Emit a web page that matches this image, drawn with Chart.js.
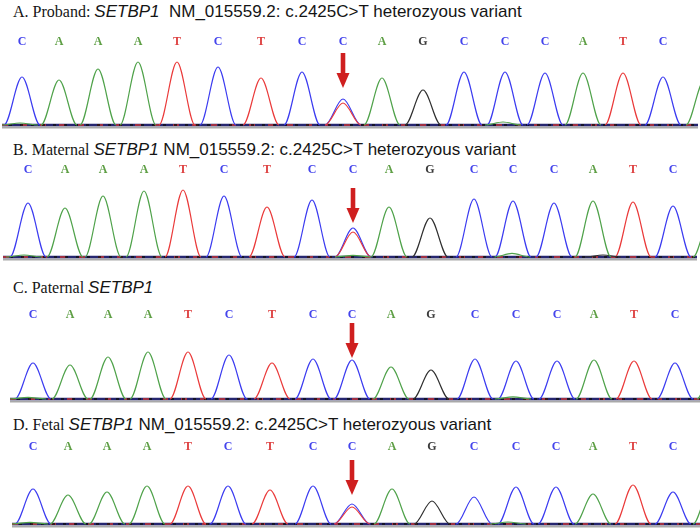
<!DOCTYPE html>
<html>
<head>
<meta charset="utf-8">
<script src="https://cdn.jsdelivr.net/npm/chart.js@4.4.1/dist/chart.umd.min.js"></script>
<style>
  body { margin: 0; background: #fff; width: 700px; height: 529px; overflow: hidden; position: relative; }
  .title { position: absolute; left: 13px; font: 17px 'Liberation Sans', Arial, sans-serif; color: #151515; white-space: pre; line-height: 18px; }
  .title .s { font-family: 'Liberation Serif', 'Times New Roman', serif; font-size: 16px; }
  .panel { position: absolute; left: 0; width: 700px; }
  canvas { display: block; }
</style>
</head>
<body>
<div class="title" style="top:3px"><span class="s">A. Proband: </span><i>SETBP1</i>  NM_015559.2: c.2425C&gt;T heterozyous variant</div>
<div class="title" style="top:141px"><span class="s">B. Maternal </span><i>SETBP1</i> NM_015559.2: c.2425C&gt;T heterozyous variant</div>
<div class="title" style="top:279px"><span class="s">C. Paternal </span><i>SETBP1</i></div>
<div class="title" style="top:416px"><span class="s">D. Fetal </span><i>SETBP1</i> NM_015559.2: c.2425C&gt;T heterozyous variant</div>

<div class="panel" style="top:30px"><canvas id="traceA" width="700" height="102"></canvas></div>
<div class="panel" style="top:158px"><canvas id="traceB" width="700" height="106"></canvas></div>
<div class="panel" style="top:303px"><canvas id="traceC" width="700" height="103"></canvas></div>
<div class="panel" style="top:435px"><canvas id="traceD" width="700" height="96"></canvas></div>

<script>
// base calls shared by all four reads
const bases = ['C', 'A', 'A', 'A', 'T', 'C', 'T', 'C', 'C', 'A', 'G', 'C', 'C', 'C', 'A', 'T', 'C'];
const variantIndex = 8;
const variantAlt = 'T';

// peak positions (scan) and heights (signal)
const probandPos = [22, 59, 98, 138, 177, 218, 261, 302, 343, 382, 423, 464, 505, 545, 583, 623, 663];
const probandHeight = [1200, 1125, 1400, 1575, 1575, 1450, 1175, 1325, 650, 1175, 875, 1325, 1325, 1300, 1300, 1300, 1200];
const probandAlt = 550;
const probandMinor = [['A', 20, 50], ['A', 503, 75], ['A', 704, 1100]];

const maternalPos = [28, 65, 103, 144, 183, 224, 267, 312, 353, 389, 430, 474, 513, 554, 593, 633, 673];
const maternalHeight = [1350, 1225, 1525, 1650, 1675, 1525, 1250, 1425, 725, 1250, 975, 1450, 1400, 1350, 1400, 1375, 1275];
const maternalAlt = 625;
const maternalMinor = [['A', 24, 50], ['A', 353, 40], ['A', 512, 90], ['G', 603, 50], ['A', 711, 1050]];

const paternalPos = [33, 70, 108, 148, 188, 229, 272, 313, 352, 391, 431, 475, 516, 557, 594, 634, 675];
const paternalHeight = [900, 850, 1050, 1175, 1175, 1100, 900, 1000, 975, 800, 725, 1000, 950, 950, 975, 950, 900];
const paternalAlt = 0;
const paternalMinor = [['A', 28, 40], ['A', 513, 55], ['A', 715, 950]];

const fetalPos = [33, 68, 107, 147, 188, 228, 270, 313, 352, 392, 432, 474, 516, 556, 593, 633, 673];
const fetalHeight = [875, 725, 800, 950, 950, 950, 850, 950, 500, 875, 575, 675, 925, 925, 750, 975, 800];
const fetalAlt = 425;
const fetalMinor = [['A', 30, 40], ['A', 508, 50], ['A', 711, 950]];

const channels = [
  { base: 'A', color: '#4fa24a' },
  { base: 'G', color: '#2f2f2f' },
  { base: 'T', color: '#ea3a3a' },
  { base: 'C', color: '#3b3bf0' }
];
const letterColors = { A: '#5e9f45', C: '#4444ec', G: '#3a3a3a', T: '#de4242' };
const halfWidth = 18;

const buildPeaks = (pos, heights, alt, minor) => {
  const peaks = pos.map((x, i) => ({ base: bases[i], x, h: heights[i] }));
  if (alt > 0) peaks.push({ base: variantAlt, x: pos[variantIndex], h: alt });
  minor.forEach(m => peaks.push({ base: m[0], x: m[1], h: m[2] }));
  return peaks;
};

const buildDatasets = (peaks, start, end) => channels.map(ch => {
  const mine = peaks.filter(p => p.base === ch.base).sort((a, b) => a.x - b.x);
  const data = [{ x: start, y: 0 }];
  mine.forEach(p => {
    data.push({ x: p.x - halfWidth, y: 0 }, { x: p.x, y: p.h }, { x: p.x + halfWidth, y: 0 });
  });
  data.push({ x: end, y: 0 });
  return {
    label: ch.base,
    data,
    borderColor: ch.color,
    borderWidth: 1.2,
    pointRadius: 0,
    fill: false,
    cubicInterpolationMode: 'monotone',
    segment: {
      borderColor: c => (c.p0.parsed.y === 0 && c.p1.parsed.y === 0) ? 'rgba(0,0,0,0)' : undefined
    }
  };
});

const traceDecor = {
  id: 'traceDecor',
  beforeDatasetsDraw(chart, args, opts) {
    const { ctx } = chart;
    const xs = chart.scales.x, ys = chart.scales.y;
    const x0 = xs.getPixelForValue(opts.start), x1 = xs.getPixelForValue(opts.end);
    const yb = ys.getPixelForValue(0), yg = ys.getPixelForValue(-65);
    ctx.save();
    ctx.lineWidth = 2;
    ctx.strokeStyle = '#a9a9a9';
    ctx.beginPath(); ctx.moveTo(x0, yg); ctx.lineTo(x1, yg); ctx.stroke();
    ctx.lineWidth = 2.4;
    ctx.strokeStyle = '#262670';
    ctx.beginPath(); ctx.moveTo(x0, yb); ctx.lineTo(x1, yb); ctx.stroke();
    ctx.lineWidth = 1.6;
    ctx.setLineDash([6, 13]);
    ctx.strokeStyle = '#c93434';
    ctx.beginPath(); ctx.moveTo(x0, yb); ctx.lineTo(x1, yb); ctx.stroke();
    ctx.setLineDash([3, 8]);
    ctx.lineDashOffset = 4;
    ctx.strokeStyle = '#111';
    ctx.beginPath(); ctx.moveTo(x0, yb); ctx.lineTo(x1, yb); ctx.stroke();
    ctx.restore();
  },
  afterDatasetsDraw(chart, args, opts) {
    const { ctx, chartArea } = chart;
    const xs = chart.scales.x, ys = chart.scales.y;
    ctx.save();
    ctx.font = 'bold 12px "Liberation Serif", "Times New Roman", serif';
    ctx.textAlign = 'center';
    ctx.textBaseline = 'middle';
    opts.positions.forEach((p, i) => {
      ctx.fillStyle = letterColors[bases[i]];
      ctx.fillText(bases[i], xs.getPixelForValue(p), chartArea.top - 10);
    });
    if (opts.arrowGap !== null) {
      const ax = xs.getPixelForValue(opts.positions[variantIndex]);
      const tip = ys.getPixelForValue(opts.heights[variantIndex]) - opts.arrowGap;
      ctx.fillStyle = '#cf1f1f';
      ctx.fillRect(ax - 2.3, tip - 35, 4.6, 21);
      ctx.beginPath();
      ctx.moveTo(ax - 6.5, tip - 15);
      ctx.lineTo(ax + 6.5, tip - 15);
      ctx.lineTo(ax, tip);
      ctx.closePath();
      ctx.fill();
    }
    ctx.restore();
  }
};

const makeTrace = (id, pos, heights, alt, minor, start, end, yMax, arrowGap) => {
  new Chart(document.getElementById(id), {
    type: 'line',
    data: { datasets: buildDatasets(buildPeaks(pos, heights, alt, minor), start, end) },
    options: {
      responsive: false,
      animation: false,
      events: [],
      layout: { padding: { top: 22, left: 0, right: 0, bottom: 0 } },
      scales: {
        x: { type: 'linear', min: 0, max: 700, display: false },
        y: { min: -175, max: yMax, display: false }
      },
      plugins: {
        legend: { display: false },
        tooltip: { enabled: false },
        traceDecor: { positions: pos, heights, start, end, arrowGap }
      }
    },
    plugins: [traceDecor]
  });
};

makeTrace('traceA', probandPos, probandHeight, probandAlt, probandMinor, 2, 698, 1825, 11);
makeTrace('traceB', maternalPos, maternalHeight, maternalAlt, maternalMinor, 3, 697, 1925, 5);
makeTrace('traceC', paternalPos, paternalHeight, paternalAlt, paternalMinor, 10, 700, 1850, 2);
makeTrace('traceD', fetalPos, fetalHeight, fetalAlt, fetalMinor, 12, 700, 1675, 9);
</script>
</body>
</html>
